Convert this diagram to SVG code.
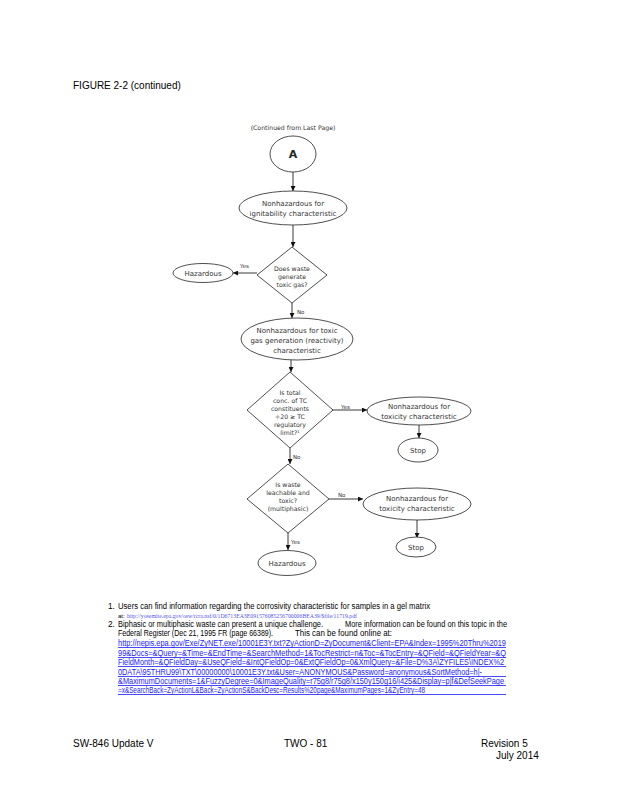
<svg xmlns="http://www.w3.org/2000/svg" width="618" height="800" viewBox="0 0 618 800">
<defs>
<marker id="ah" viewBox="0 0 10 10" refX="10" refY="5" markerWidth="5" markerHeight="5" orient="auto" markerUnits="userSpaceOnUse">
<path d="M0,0 L10,5 L0,10 z" fill="#111"/>
</marker>
<style>
.sh{fill:#fff;stroke:#222;stroke-width:0.8}
.ln{stroke:#222;stroke-width:0.9;fill:none;marker-end:url(#ah)}
.t{font-family:"DejaVu Sans",sans-serif;font-size:7px;fill:#333;text-anchor:middle}
.ts{font-family:"DejaVu Sans",sans-serif;font-size:6.2px;fill:#333;text-anchor:middle}
.lb{font-family:"DejaVu Sans",sans-serif;font-size:5.5px;fill:#333}
.a{font-family:"Liberation Sans",Arial,sans-serif;font-size:10px;fill:#000}
.f{font-family:"Liberation Sans",Arial,sans-serif;font-size:8.3px;fill:#000}
.fs{font-family:"Liberation Sans",Arial,sans-serif;font-size:6px;fill:#000}
.u{font-family:"Liberation Sans",Arial,sans-serif;font-size:8.3px;fill:#1a1aff}
.ul{stroke:#1a1aff;stroke-width:0.8}
</style>
</defs>
<rect width="618" height="800" fill="#fff"/>
<text class="a" x="73" y="89">FIGURE 2-2 (continued)</text>
<text class="ts" x="293" y="130">(Continued from Last Page)</text>

<g id="connectors">
<line class="ln" x1="293" y1="172" x2="293" y2="191"/>
<line class="ln" x1="293" y1="225" x2="293" y2="247"/>
<line class="ln" x1="257" y1="273" x2="233" y2="273"/>
<line class="ln" x1="292" y1="303" x2="292" y2="318"/>
<line class="ln" x1="291" y1="360" x2="291" y2="372"/>
<line class="ln" x1="332" y1="410" x2="367" y2="410"/>
<line class="ln" x1="419" y1="425" x2="419" y2="438"/>
<line class="ln" x1="290" y1="448" x2="290" y2="464"/>
<line class="ln" x1="329" y1="499" x2="363" y2="499"/>
<line class="ln" x1="417" y1="520" x2="417" y2="538"/>
<line class="ln" x1="288" y1="533" x2="288" y2="550"/>
<text class="lb" x="240" y="268">Yes</text>
<text class="lb" x="297" y="314">No</text>
<text class="lb" x="341" y="409">Yes</text>
<text class="lb" x="293" y="459">No</text>
<text class="lb" x="338" y="497">No</text>
<text class="lb" x="291" y="544">Yes</text>
</g>

<g id="nodeA">
<ellipse class="sh" cx="293" cy="154" rx="23" ry="18"/>
<text x="293" y="158" font-family="DejaVu Sans,sans-serif" font-size="11" font-weight="bold" fill="#222" text-anchor="middle">A</text>
</g>
<g id="ignit">
<ellipse class="sh" cx="293" cy="208" rx="54" ry="17"/>
<text class="t" x="293" y="206">Nonhazardous for</text>
<text class="t" x="293" y="216">ignitability characteristic</text>
</g>
<g id="toxicgas">
<path class="sh" d="M292,247 L327,275 L292,303 L257,275 z"/>
<text class="ts" x="292" y="271">Does waste</text>
<text class="ts" x="292" y="279">generate</text>
<text class="ts" x="292" y="287">toxic gas?</text>
</g>
<g id="haz1">
<ellipse class="sh" cx="203" cy="273" rx="30" ry="9.5"/>
<text class="t" x="203" y="276">Hazardous</text>
</g>
<g id="react">
<ellipse class="sh" cx="297" cy="339" rx="56" ry="21"/>
<text class="t" x="297" y="333">Nonhazardous for toxic</text>
<text class="t" x="297" y="343">gas generation (reactivity)</text>
<text class="t" x="297" y="353">characteristic</text>
</g>
<g id="totalconc">
<path class="sh" d="M290,372 L333,410 L290,448 L247,410 z"/>
<text class="ts" x="290" y="395">Is total</text>
<text class="ts" x="290" y="403">conc. of TC</text>
<text class="ts" x="290" y="411">constituents</text>
<text class="ts" x="290" y="419">÷20 ≥ TC</text>
<text class="ts" x="290" y="427">regulatory</text>
<text class="ts" x="290" y="435">limit?¹</text>
</g>
<g id="nontox1">
<ellipse class="sh" cx="419" cy="411" rx="52" ry="14"/>
<text class="t" x="419" y="409">Nonhazardous for</text>
<text class="t" x="419" y="419">toxicity characteristic</text>
</g>
<g id="stop1">
<ellipse class="sh" cx="418" cy="450" rx="20" ry="12"/>
<text class="t" x="418" y="453">Stop</text>
</g>
<g id="leach">
<path class="sh" d="M288,464 L329,499 L288,533 L247,499 z"/>
<text class="ts" x="288" y="487">Is waste</text>
<text class="ts" x="288" y="495">leachable and</text>
<text class="ts" x="288" y="503">toxic?</text>
<text class="ts" x="288" y="511">(multiphasic)</text>
</g>
<g id="nontox2">
<ellipse class="sh" cx="417" cy="504" rx="54" ry="16"/>
<text class="t" x="417" y="501">Nonhazardous for</text>
<text class="t" x="417" y="511">toxicity characteristic</text>
</g>
<g id="stop2">
<ellipse class="sh" cx="416" cy="547" rx="20" ry="10"/>
<text class="t" x="416" y="550">Stop</text>
</g>
<g id="haz2">
<ellipse class="sh" cx="287" cy="563" rx="29" ry="12.5"/>
<text class="t" x="287" y="566">Hazardous</text>
</g>

<g id="footnotes">
<text class="f" x="108" y="609">1.</text>
<text class="f" x="118" y="609" textLength="312" lengthAdjust="spacingAndGlyphs">Users can find information regarding the corrosivity characteristic for samples in a gel matrix</text>
<text class="fs" x="118" y="618">at:</text>
<text x="127" y="618" font-family="Liberation Serif,serif" font-size="5.5" fill="#5555ee" textLength="230" lengthAdjust="spacingAndGlyphs">http://yosemite.epa.gov/osw/rcra.nsf/0/1D6713EA3E091576085256700006BEA39/$file/11719.pdf</text>
<text class="f" x="108" y="627">2.</text>
<text class="f" x="118" y="627" textLength="205" lengthAdjust="spacingAndGlyphs">Biphasic or multiphasic waste can present a unique challenge.</text>
<text class="f" x="345" y="627" textLength="162" lengthAdjust="spacingAndGlyphs">More information can be found on this topic in the</text>
<text class="f" x="118" y="636" textLength="155" lengthAdjust="spacingAndGlyphs">Federal Register (Dec 21, 1995 FR (page 66389).</text>
<text class="f" x="295" y="636" textLength="97" lengthAdjust="spacingAndGlyphs">This can be found online at:</text>
<text class="u" x="118" y="646" textLength="388" lengthAdjust="spacingAndGlyphs">http://nepis.epa.gov/Exe/ZyNET.exe/10001E3Y.txt?ZyActionD=ZyDocument&amp;Client=EPA&amp;Index=1995%20Thru%2019</text>
<text class="u" x="118" y="656" textLength="388" lengthAdjust="spacingAndGlyphs">99&amp;Docs=&amp;Query=&amp;Time=&amp;EndTime=&amp;SearchMethod=1&amp;TocRestrict=n&amp;Toc=&amp;TocEntry=&amp;QField=&amp;QFieldYear=&amp;Q</text>
<text class="u" x="118" y="665" textLength="386" lengthAdjust="spacingAndGlyphs">FieldMonth=&amp;QFieldDay=&amp;UseQField=&amp;IntQFieldOp=0&amp;ExtQFieldOp=0&amp;XmlQuery=&amp;File=D%3A\ZYFILES\INDEX%2</text>
<text class="u" x="118" y="675" textLength="364" lengthAdjust="spacingAndGlyphs">0DATA\95THRU99\TXT\00000000\10001E3Y.txt&amp;User=ANONYMOUS&amp;Password=anonymous&amp;SortMethod=h|-</text>
<text class="u" x="118" y="684" textLength="386" lengthAdjust="spacingAndGlyphs">&amp;MaximumDocuments=1&amp;FuzzyDegree=0&amp;ImageQuality=r75g8/r75g8/x150y150g16/i425&amp;Display=p|f&amp;DefSeekPage</text>
<text class="u" x="118" y="693" textLength="307" lengthAdjust="spacingAndGlyphs">=x&amp;SearchBack=ZyActionL&amp;Back=ZyActionS&amp;BackDesc=Results%20page&amp;MaximumPages=1&amp;ZyEntry=48</text>
<line class="ul" x1="118" y1="647.5" x2="506" y2="647.5"/>
<line class="ul" x1="118" y1="657.5" x2="506" y2="657.5"/>
<line class="ul" x1="118" y1="666.5" x2="506" y2="666.5"/>
<line class="ul" x1="118" y1="676.5" x2="506" y2="676.5"/>
<line class="ul" x1="118" y1="685.5" x2="506" y2="685.5"/>
<line class="ul" x1="118" y1="694.5" x2="506" y2="694.5"/>
</g>

<text class="a" x="73" y="747">SW-846 Update V</text>
<text class="a" x="284" y="747">TWO -  81</text>
<text class="a" x="481" y="747">Revision 5</text>
<text class="a" x="496" y="759">July 2014</text>
</svg>
